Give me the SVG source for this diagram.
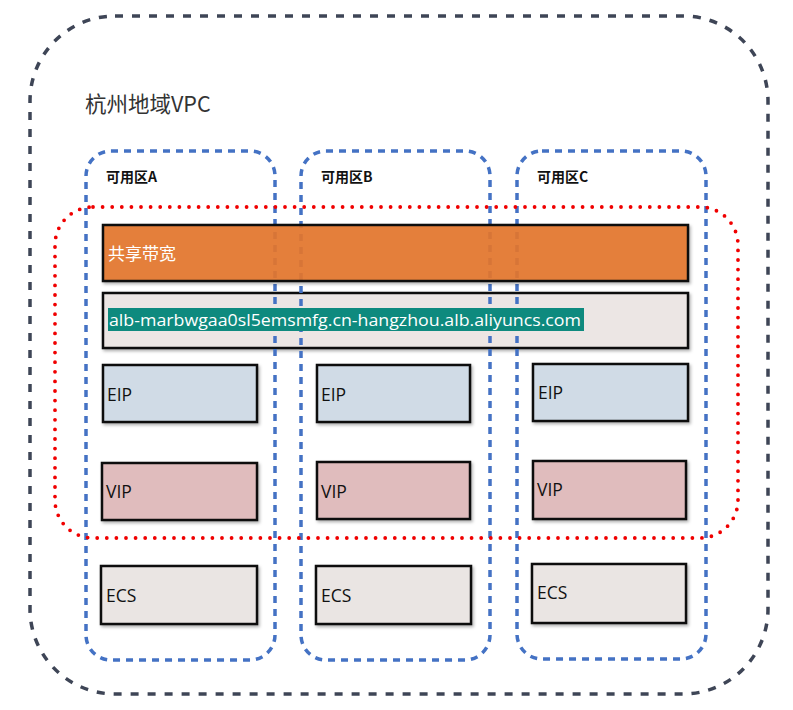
<svg xmlns="http://www.w3.org/2000/svg" width="793" height="710" viewBox="0 0 793 710">
<defs>
<filter id="sh" x="-5%" y="-10%" width="115%" height="130%"><feDropShadow dx="1.5" dy="2" stdDeviation="1.5" flood-color="#000" flood-opacity="0.3"/></filter>
</defs>
<style>
.vpc{fill:none;stroke:#3E4556;stroke-width:3.5;stroke-dasharray:8 9}
.zone{fill:none;stroke:#4472C4;stroke-width:3.5;stroke-dasharray:7 6}
.red{fill:none;stroke:#F00000;stroke-width:3.8;stroke-dasharray:0 9.6;stroke-linecap:round}
.box{stroke:#111;stroke-width:2.5}
.eip{fill:#D0DBE6}.vip{fill:#E0BCBD}.ecs{fill:#EAE5E3}
.lbl{font-family:"Open Sans","Noto Sans",sans-serif;font-size:17.5px;fill:#111}
.zl{font-family:"Noto Sans CJK SC","Noto Sans",sans-serif;font-size:14px;font-weight:bold;fill:#111}
</style>
<rect width="793" height="710" fill="#fff"/>
<g id="vpc">
<rect class="vpc" x="30" y="16" width="738" height="678" rx="85" ry="85"/>
<text x="85" y="112" font-family="Noto Sans CJK SC,Noto Sans,sans-serif" font-size="21.5" fill="#333">杭州地域VPC</text>
</g>
<g id="domain">
<rect class="box" x="103" y="293" width="585" height="55" fill="#ECE6E4" filter="url(#sh)"/>
</g>
<g id="zoneA"><rect class="zone" x="86" y="151" width="189" height="509" rx="25"/><text class="zl" x="106" y="182">可用区A</text></g>
<g id="zoneB"><rect class="zone" x="301" y="151" width="189" height="509" rx="25"/><text class="zl" x="321" y="182">可用区B</text></g>
<g id="zoneC"><rect class="zone" x="517" y="151" width="189" height="508" rx="25"/><text class="zl" x="537" y="182">可用区C</text></g>
<g id="domainLabel">
<rect x="108" y="308" width="476" height="23" fill="#0E8A7E"/>
<text x="109" y="326" font-family="Open Sans,Noto Sans,sans-serif" font-size="17" fill="#fff" textLength="472" lengthAdjust="spacingAndGlyphs">alb-marbwgaa0sl5emsmfg.cn-hangzhou.alb.aliyuncs.com</text>
</g>
<g id="bandwidth">
<rect class="box" x="103" y="225" width="585" height="56" fill="#E5772C" fill-opacity="0.9" filter="url(#sh)"/>
<text x="108" y="260" font-family="Noto Sans CJK SC,Noto Sans,sans-serif" font-size="17" fill="#fff">共享带宽</text>
</g>
<g id="alb"><rect class="red" x="55" y="207" width="683" height="331" rx="38"/></g>
<g id="eipA"><rect class="box eip" x="103" y="365" width="154" height="57" filter="url(#sh)"/><text class="lbl" x="107" y="401">EIP</text></g>
<g id="eipB"><rect class="box eip" x="317" y="365" width="153" height="57" filter="url(#sh)"/><text class="lbl" x="321" y="401">EIP</text></g>
<g id="eipC"><rect class="box eip" x="533" y="364" width="155" height="57" filter="url(#sh)"/><text class="lbl" x="538" y="399">EIP</text></g>
<g id="vipA"><rect class="box vip" x="102" y="463" width="155" height="57" filter="url(#sh)"/><text class="lbl" x="106" y="498">VIP</text></g>
<g id="vipB"><rect class="box vip" x="317" y="462" width="153" height="57" filter="url(#sh)"/><text class="lbl" x="321" y="498">VIP</text></g>
<g id="vipC"><rect class="box vip" x="533" y="461" width="153" height="58" filter="url(#sh)"/><text class="lbl" x="537" y="496">VIP</text></g>
<g id="ecsA"><rect class="box ecs" x="101" y="566" width="156" height="58" filter="url(#sh)"/><text class="lbl" x="106" y="602">ECS</text></g>
<g id="ecsB"><rect class="box ecs" x="316" y="566" width="155" height="58" filter="url(#sh)"/><text class="lbl" x="321" y="602">ECS</text></g>
<g id="ecsC"><rect class="box ecs" x="532" y="564" width="154" height="59" filter="url(#sh)"/><text class="lbl" x="537" y="599">ECS</text></g>
<g id="connectors"></g>
</svg>
